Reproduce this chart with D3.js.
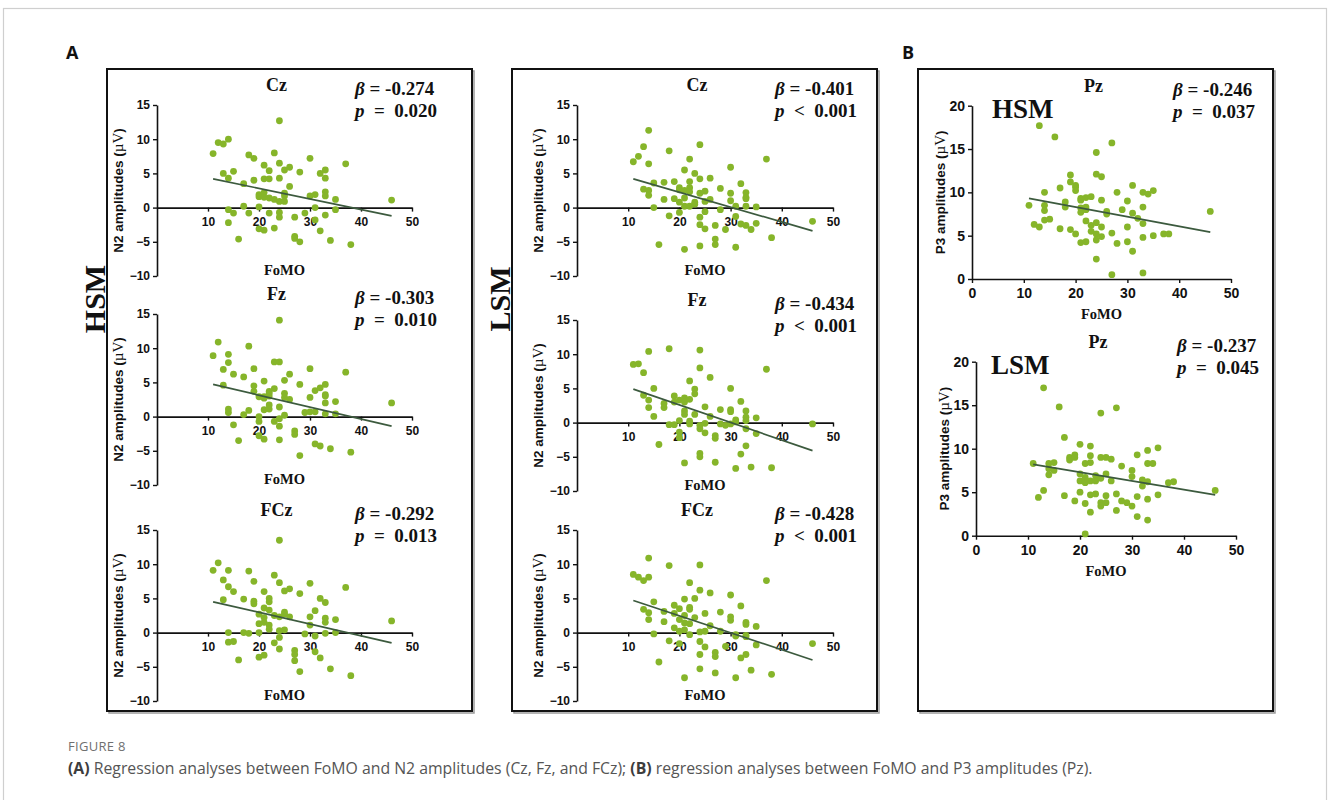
<!DOCTYPE html>
<html>
<head>
<meta charset="utf-8">
<script src="https://cdn.jsdelivr.net/npm/d3@7"></script>
<style>
  body { margin: 0; background: #fff; }
  svg { display: block; }
  text { white-space: pre; }
</style>
</head>
<body>
<svg id="fig" width="1330" height="800"></svg>
<script>
// ---- data: [FoMO score, ERP amplitude (µV)] per participant ----
const hsmCz = [[11,7.9],[12,9.5],[13,9.3],[13,5.0],[14,10.0],[14,4.3],[14,-0.3],[14,-2.2],[15,5.3],[15,-0.8],[16,-4.6],[17,3.5],[17,0.2],[18,7.7],[18,-0.8],[19,7.2],[19,4.0],[20,0.1],[20,1.9],[20,1.6],[20,-3.1],[21,6.2],[21,4.2],[21,2.2],[21,1.5],[21,-3.3],[22,5.4],[22,4.2],[22,1.4],[22,-0.8],[23,8.0],[23,1.2],[23,-3.0],[24,12.7],[24,6.5],[24,4.3],[24,0.9],[24,-0.7],[24,-1.4],[25,5.5],[25,2.1],[25,1.7],[25,0.9],[26,5.9],[26,3.1],[27,-1.4],[27,-4.2],[27,-4.5],[28,5.2],[28,-5.0],[29,-0.8],[30,7.2],[30,1.7],[31,1.9],[31,0.0],[31,-1.8],[32,5.0],[32,-3.4],[33,5.5],[33,4.3],[33,2.3],[33,1.7],[33,-1.1],[34,-4.8],[35,1.2],[35,-0.3],[37,6.4],[38,-5.4],[46,1.1]];
const hsmFz = [[11,8.9],[12,10.9],[13,6.9],[13,4.6],[14,9.1],[14,7.9],[14,1.1],[14,0.6],[15,6.2],[15,-1.2],[16,-3.5],[17,5.8],[17,0.3],[18,10.3],[18,0.9],[19,7.0],[19,4.5],[19,3.7],[20,2.9],[20,0.0],[20,-0.7],[20,-2.8],[21,5.2],[21,2.9],[21,2.7],[21,1.0],[21,-3.3],[22,3.7],[22,3.4],[22,3.0],[22,1.7],[22,1.1],[23,8.0],[23,4.1],[23,-0.7],[24,14.1],[24,8.0],[24,1.4],[24,-0.3],[24,-1.4],[24,-3.4],[25,5.3],[25,3.4],[25,2.8],[25,0.2],[26,6.2],[26,2.5],[27,-2.1],[27,-2.6],[28,4.7],[28,-5.7],[29,0.6],[30,7.0],[30,2.8],[30,0.7],[31,3.8],[31,0.7],[31,-4.0],[32,4.2],[32,-4.3],[33,4.7],[33,3.2],[33,3.0],[33,2.0],[33,0.4],[34,-4.7],[35,2.2],[35,0.4],[37,6.5],[38,-5.2],[46,2.0]];
const hsmFCz = [[11,9.1],[12,10.2],[13,7.7],[13,4.8],[14,9.1],[14,6.7],[14,0.0],[14,-1.4],[15,6.0],[15,-1.3],[16,-4.0],[17,4.9],[17,0.0],[18,9.0],[18,-0.1],[19,7.5],[19,4.6],[19,4.2],[20,2.7],[20,1.3],[20,0.0],[20,-3.6],[21,6.0],[21,3.6],[21,2.2],[21,1.5],[21,-3.3],[22,5.0],[22,4.5],[22,3.3],[22,1.1],[22,0.5],[23,8.4],[23,2.5],[23,-1.5],[24,13.5],[24,7.3],[24,2.3],[24,0.3],[24,-0.7],[24,-2.4],[25,6.1],[25,3.0],[25,2.7],[25,0.4],[26,6.4],[26,2.3],[27,-2.6],[27,-3.2],[27,-4.1],[28,5.7],[28,-5.7],[29,-0.2],[30,7.2],[30,2.3],[30,1.1],[31,3.2],[31,-0.5],[31,-2.8],[32,5.0],[32,-3.7],[33,4.4],[33,2.1],[33,1.5],[33,-0.1],[34,-5.3],[35,1.9],[35,0.0],[37,6.6],[38,-6.3],[46,1.7]];
const lsmCz = [[11,6.7],[12,7.5],[13,8.9],[13,2.7],[14,11.3],[14,6.4],[14,2.5],[14,1.8],[15,3.6],[15,0.0],[16,-5.4],[17,3.7],[17,1.2],[18,8.3],[18,-1.2],[19,3.8],[19,1.3],[20,2.9],[20,2.6],[20,0.8],[20,-0.7],[21,5.5],[21,2.5],[21,1.4],[21,0.2],[21,-6.1],[22,7.1],[22,3.8],[22,2.9],[22,2.3],[22,0.2],[23,5.0],[23,0.8],[23,0.5],[24,9.2],[24,4.2],[24,2.1],[24,-1.4],[24,-2.5],[24,-5.6],[25,2.4],[25,0.9],[25,-0.6],[25,-3.1],[26,4.3],[26,1.2],[27,-2.6],[27,-4.6],[27,-5.4],[28,2.8],[28,-0.3],[29,-3.2],[30,5.9],[30,2.1],[30,1.0],[31,0.2],[31,-1.3],[31,-5.8],[32,3.5],[32,-2.4],[33,2.2],[33,1.5],[33,1.3],[33,0.2],[33,-2.6],[34,-3.2],[35,0.1],[35,-2.3],[37,7.1],[38,-4.4],[46,-2.0]];
const lsmFz = [[11,8.5],[12,8.6],[13,7.3],[13,4.0],[14,10.4],[14,3.3],[14,2.2],[15,5.0],[15,0.9],[16,-3.2],[17,2.8],[17,2.2],[18,10.8],[18,-0.3],[19,3.9],[19,3.0],[19,-0.3],[20,3.3],[20,0.3],[20,-1.4],[20,-2.2],[21,3.6],[21,3.3],[21,3.0],[21,1.7],[21,1.2],[21,-5.9],[22,6.1],[22,3.4],[22,0.2],[22,-0.2],[23,4.9],[23,4.2],[23,1.2],[24,10.6],[24,8.0],[24,-0.4],[24,-0.9],[24,-4.5],[24,-5.0],[25,2.3],[25,-0.1],[25,-1.5],[26,6.6],[26,0.9],[27,-1.9],[27,-2.3],[27,-5.8],[28,1.9],[28,-0.2],[29,-0.4],[30,5.0],[30,1.9],[30,1.6],[30,-0.2],[31,0.4],[31,0.1],[31,-6.7],[32,3.1],[32,-4.6],[33,1.7],[33,0.8],[33,0.3],[33,-0.9],[33,-3.4],[34,-6.5],[35,0.7],[35,-1.6],[37,7.8],[38,-6.6],[46,-0.2]];
const lsmFCz = [[11,8.5],[12,8.1],[13,7.6],[13,3.4],[14,10.9],[14,8.1],[14,2.9],[14,1.9],[15,4.5],[15,-0.2],[16,-4.3],[17,3.1],[17,1.6],[18,9.8],[18,-1.2],[19,4.0],[19,2.8],[19,0.7],[20,3.5],[20,1.9],[20,0.2],[20,-1.6],[21,4.9],[21,2.5],[21,1.4],[21,0.4],[21,-6.6],[22,7.3],[22,3.7],[22,3.4],[22,1.3],[22,-0.3],[23,5.0],[23,2.2],[24,9.9],[24,6.2],[24,0.1],[24,-1.3],[24,-3.2],[24,-5.3],[25,2.8],[25,0.2],[25,-2.1],[26,5.8],[26,1.0],[27,-2.9],[27,-3.5],[27,-5.9],[28,3.0],[28,0.2],[29,-2.0],[30,5.5],[30,2.3],[30,1.8],[31,-0.3],[31,-0.5],[31,-6.6],[32,3.9],[32,-3.7],[33,1.5],[33,1.2],[33,-0.4],[33,-0.6],[33,-3.2],[34,-5.5],[35,0.9],[35,-1.8],[37,7.6],[38,-6.1],[46,-1.6]];
const hsmPz = [[11,8.5],[12,6.3],[13,17.7],[13,6.0],[14,10.0],[14,8.5],[14,7.9],[14,6.8],[15,6.9],[16,16.4],[17,10.5],[17,5.8],[18,8.9],[18,8.3],[19,12.0],[19,11.2],[19,5.7],[20,10.8],[20,10.6],[20,10.2],[20,5.2],[21,9.3],[21,9.1],[21,8.2],[21,7.7],[21,4.2],[22,9.4],[22,8.3],[22,8.0],[22,6.7],[22,4.3],[23,9.5],[23,6.2],[23,5.5],[24,14.6],[24,12.1],[24,6.5],[24,5.2],[24,4.5],[24,2.3],[25,11.8],[25,9.1],[25,6.0],[25,4.9],[26,7.8],[26,7.5],[27,15.7],[27,5.3],[27,0.5],[28,10.0],[28,4.1],[29,8.0],[30,9.0],[30,6.0],[30,4.3],[31,10.8],[31,7.6],[31,3.2],[32,7.0],[33,10.0],[33,8.3],[33,6.4],[33,4.8],[33,0.7],[34,9.8],[35,10.2],[35,5.0],[37,5.2],[38,5.2],[46,7.8]];
const lsmPz = [[11,8.3],[12,4.4],[13,17.0],[13,5.2],[14,8.3],[14,7.7],[14,7.0],[15,8.4],[15,7.5],[16,14.8],[17,11.3],[17,4.6],[18,9.0],[18,8.7],[19,9.3],[19,9.0],[19,4.0],[20,10.5],[20,7.1],[20,6.3],[20,5.0],[21,8.3],[21,6.7],[21,6.4],[21,6.1],[21,3.7],[21,0.2],[22,10.3],[22,9.2],[22,8.4],[22,6.3],[22,4.7],[22,2.7],[23,6.9],[23,6.3],[23,4.8],[24,14.1],[24,9.0],[24,6.6],[24,3.8],[24,3.4],[25,9.0],[25,7.1],[25,4.6],[25,3.8],[26,8.8],[26,6.3],[27,14.7],[27,4.8],[27,2.9],[28,8.0],[28,4.0],[29,3.8],[30,7.5],[30,6.8],[30,3.4],[31,9.3],[31,4.5],[31,2.2],[32,6.4],[32,5.7],[33,9.8],[33,8.3],[33,6.2],[33,4.2],[33,1.8],[34,8.3],[35,10.1],[35,4.7],[37,6.1],[38,6.2],[46,5.2]];

// fitted regression lines: predicted amplitude at the ends of the FoMO range
const fitRange = [11, 46];
const fitN2Hsm = [[4.2, -1.2], [4.7, -1.4], [4.5, -1.5]];
const fitN2Lsm = [[4.2, -3.4], [4.9, -4.1], [4.7, -4.0]];
const fitP3 = [[9.3, 5.4], [8.2, 4.7]];

// labels and statistics
const electrodes = ["Cz", "Fz", "FCz"];
const betaN2Hsm = ["-0.274", "-0.303", "-0.292"];
const pN2Hsm = ["0.020", "0.010", "0.013"];
const betaN2Lsm = ["-0.401", "-0.434", "-0.428"];
const pN2Lsm = ["0.001", "0.001", "0.001"];
const betaP3 = ["-0.246", "-0.237"];
const pP3 = ["0.037", "0.045"];
const groups = ["HSM", "LSM"];

// axis ticks
const n2Ticks = [-10, -5, 0, 5, 10, 15];
const p3Ticks = [0, 5, 10, 15, 20];
const fomoTicksA = [10, 20, 30, 40, 50];
const fomoTicksB = [0, 10, 20, 30, 40, 50];

// ---- drawing ----
const svg = d3.select("#fig");
const SANS = "'Liberation Sans', Arial, sans-serif";
const SERIF = "'Liberation Serif', 'Times New Roman', serif";
const CAPTION = "'Open Sans', 'Noto Sans', sans-serif";
const DOT = "#86b52a";
const FIT = "#3c5a3e";

// outer card
svg.append("rect").attr("x", 3.5).attr("y", 8.5).attr("width", 1323).attr("height", 800)
  .attr("fill", "none").attr("stroke", "#cfcfcf").attr("stroke-width", 1.2);

// framed boxes with a slight shadow
function frame(x0, y0, x1, y1) {
  svg.append("rect").attr("x", x0 + 2).attr("y", y0 + 2).attr("width", x1 - x0).attr("height", y1 - y0)
    .attr("fill", "none").attr("stroke", "#9a9a9a").attr("stroke-width", 1.5);
  svg.append("rect").attr("x", x0).attr("y", y0).attr("width", x1 - x0).attr("height", y1 - y0)
    .attr("fill", "#fff").attr("stroke", "#111").attr("stroke-width", 2);
}
frame(107, 69, 472, 711);
frame(512, 69, 877, 711);
frame(918, 69, 1273, 711);

// panel letters
svg.append("text").attr("x", 66).attr("y", 59).text("A")
  .attr("font-family", CAPTION).attr("font-weight", 700).attr("font-size", 18).attr("fill", "#111");
svg.append("text").attr("x", 902).attr("y", 59).text("B")
  .attr("font-family", CAPTION).attr("font-weight", 700).attr("font-size", 18).attr("fill", "#111");

// vertical group labels of panel A
[[105, 299, groups[0]], [510, 299, groups[1]]].forEach(([gx, gy, label]) => {
  svg.append("text").attr("transform", `translate(${gx},${gy}) rotate(-90)`)
    .attr("text-anchor", "middle").attr("font-family", SERIF).attr("font-weight", 700)
    .attr("font-size", 30).attr("fill", "#111").text(label);
});

function scatter(o) {
  const x = d3.scaleLinear().domain([0, 50]).range([o.x0, o.x1]);
  const y = d3.scaleLinear().domain(o.yDomain).range([o.bottom, o.top]);
  const g = svg.append("g");
  const tickFont = o.tickFont;

  // x axis (through zero)
  const xa = g.append("g").attr("transform", `translate(0,${y(0)})`)
    .call(d3.axisBottom(x).tickValues(o.xTicks).tickSize(4).tickSizeOuter(0).tickPadding(o.xPad));
  // y axis
  const ya = g.append("g").attr("transform", `translate(${o.x0},0)`)
    .call(d3.axisLeft(y).tickValues(o.yTicks).tickSize(4).tickSizeOuter(0).tickPadding(3));
  [xa, ya].forEach(a => {
    a.select(".domain").attr("stroke", "#111").attr("stroke-width", 1.6);
    a.selectAll(".tick line").attr("stroke", "#111").attr("stroke-width", 1.4);
    a.selectAll(".tick text").attr("font-family", SANS).attr("font-weight", 700)
      .attr("font-size", tickFont).attr("fill", "#111");
  });

  // points
  g.append("g").selectAll("circle").data(o.points).join("circle")
    .attr("cx", d => x(d[0])).attr("cy", d => y(d[1])).attr("r", 3.4).attr("fill", DOT);

  // regression line
  g.append("line")
    .attr("x1", x(fitRange[0])).attr("y1", y(o.fit[0]))
    .attr("x2", x(fitRange[1])).attr("y2", y(o.fit[1]))
    .attr("stroke", FIT).attr("stroke-width", 1.7);

  // electrode title
  g.append("text").attr("x", (o.x0 + o.x1) / 2 - 8).attr("y", o.top - 14)
    .attr("text-anchor", "middle").attr("font-family", SERIF).attr("font-weight", 700)
    .attr("font-size", 18).attr("fill", "#111").text(o.title);

  // statistics
  const b = g.append("text").attr("x", o.statX).attr("y", o.top - 10)
    .attr("font-family", SERIF).attr("font-weight", 700).attr("font-size", 19).attr("fill", "#111");
  b.append("tspan").attr("font-style", "italic").text("β");
  b.append("tspan").text(" = " + o.beta);
  const p = g.append("text").attr("x", o.statX).attr("y", o.top + 12)
    .attr("font-family", SERIF).attr("font-weight", 700).attr("font-size", 19).attr("fill", "#111");
  p.append("tspan").attr("font-style", "italic").text("p");
  p.append("tspan").text("  " + o.rel + "  " + o.p);

  // x label
  g.append("text").attr("x", (o.x0 + o.x1) / 2).attr("y", o.fomoY)
    .attr("text-anchor", "middle").attr("font-family", SERIF).attr("font-weight", 700)
    .attr("font-size", 14.5).attr("fill", "#111").text("FoMO");

  // y label
  const yl = g.append("text")
    .attr("transform", `translate(${o.x0 - o.yLabOff},${(o.top + o.bottom) / 2}) rotate(-90)`)
    .attr("text-anchor", "middle").attr("dy", "0.35em")
    .attr("font-family", SANS).attr("font-weight", 700).attr("font-size", 13.5).attr("fill", "#111");
  yl.append("tspan").text(o.yName + " amplitudes (");
  yl.append("tspan").attr("font-family", SERIF).attr("font-weight", 400).attr("font-size", 15).text("µV");
  yl.append("tspan").text(")");

  if (o.group) {
    g.append("text").attr("x", o.groupX).attr("y", o.top + 12)
      .attr("font-family", SERIF).attr("font-weight", 700).attr("font-size", 27)
      .attr("fill", "#111").text(o.group);
  }
}

// panel A: N2 amplitudes
const n2Sets = [[hsmCz, hsmFz, hsmFCz], [lsmCz, lsmFz, lsmFCz]];
const colX = [[157, 412, 355], [577, 833, 775]];
const rowTops = [[105, 314, 530], [105, 320, 530]];
n2Sets.forEach((sets, c) => {
  sets.forEach((pts, r) => {
    const top = rowTops[c][r];
    scatter({
      points: pts, x0: colX[c][0], x1: colX[c][1], top: top, bottom: top + 171,
      yDomain: [-10, 15], yTicks: n2Ticks, xTicks: fomoTicksA, xPad: 6, tickFont: 12,
      fit: c === 0 ? fitN2Hsm[r] : fitN2Lsm[r],
      title: electrodes[r], statX: colX[c][2],
      beta: c === 0 ? betaN2Hsm[r] : betaN2Lsm[r],
      rel: c === 0 ? "=" : "<", p: c === 0 ? pN2Hsm[r] : pN2Lsm[r],
      fomoY: top + 170, yLabOff: 39, yName: "N2"
    });
  });
});

// panel B: P3 amplitudes
const p3Sets = [hsmPz, lsmPz];
const bLayout = [[972, 1231, 105.7, 279, 1173, 992], [976, 1236, 361.7, 535.7, 1177, 991]];
p3Sets.forEach((pts, i) => {
  const L = bLayout[i];
  scatter({
    points: pts, x0: L[0], x1: L[1], top: L[2], bottom: L[3],
    yDomain: [0, 20], yTicks: p3Ticks, xTicks: fomoTicksB, xPad: 5, tickFont: 14,
    fit: fitP3[i], title: "Pz", statX: L[4], beta: betaP3[i], rel: "=", p: pP3[i],
    fomoY: L[3] + 40, yLabOff: 32, yName: "P3", group: groups[i], groupX: L[5]
  });
});

// caption
svg.append("text").attr("x", 68).attr("y", 751).text("FIGURE 8")
  .attr("font-family", CAPTION).attr("font-size", 13).attr("letter-spacing", 0.3).attr("fill", "#6f6f6f");
const cap = svg.append("text").attr("x", 68).attr("y", 774)
  .attr("font-family", CAPTION).attr("font-size", 15.8).attr("fill", "#555");
cap.append("tspan").attr("font-weight", 700).attr("fill", "#3d3d3d").text("(A)");
cap.append("tspan").text(" Regression analyses between FoMO and N2 amplitudes (Cz, Fz, and FCz); ");
cap.append("tspan").attr("font-weight", 700).attr("fill", "#3d3d3d").text("(B)");
cap.append("tspan").text(" regression analyses between FoMO and P3 amplitudes (Pz).");
</script>
</body>
</html>
